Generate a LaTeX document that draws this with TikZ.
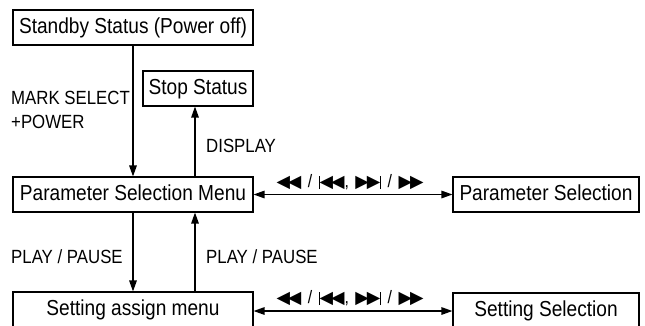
\documentclass[tikz,border=0pt]{standalone}
\usepackage{fontspec}
\setmainfont{Liberation Sans}[FakeStretch=0.88]
\newfontfamily\symf{DejaVu Sans}
\usetikzlibrary{arrows.meta}
\newcommand{\trifont}{\symf\fontsize{17.5}{17.5}\selectfont}
\newcommand{\tl}{{\trifont ◀\kern-2pt◀}}
\newcommand{\tr}{{\trifont ▶\kern-2pt▶}}
\newcommand{\vb}{{\trifont\setbox0\hbox{◀}\rule[-\dp0]{1.3pt}{\dimexpr\ht0+\dp0\relax}}}
\newcommand{\gp}{\hspace{6.5pt}}
\newcommand{\navlabel}{\tl\gp/\gp\vb\kern-0.5pt\tl,\gp\tr\kern-0.5pt\vb\gp/\gp\tr}
\begin{document}
\begin{tikzpicture}[x=1pt,y=-1pt,
  box/.style={draw, line width=1.1pt, inner sep=0pt, minimum height=35pt,
    font=\fontsize{21.7}{24}\selectfont, text height=15.5pt, text depth=4.5pt},
  lbl/.style={anchor=base west, inner sep=0pt, font=\fontsize{19.1}{22}\selectfont},
  nav/.style={anchor=base, inner sep=0pt, font=\fontsize{18}{20}\selectfont},
  arr/.style={line width=1.4pt, -{Triangle[length=11pt,width=7.5pt]}},
  darr/.style={line width=1.4pt, {Triangle[length=11pt,width=7.5pt]}-{Triangle[length=11pt,width=7.5pt]}}]
\useasboundingbox (0,0) rectangle (645,325);
\clip (0,0) rectangle (645,325);
\node[box, minimum width=240pt] (standby) at (133,27.5) {Standby Status (Power off)};
\node[box, minimum width=110pt] (stop) at (198,88.5) {Stop Status};
\node[box, minimum width=240pt] (psm) at (133,194.5) {Parameter Selection Menu};
\node[box, minimum width=186pt] (ps) at (546,194.5) {Parameter Selection};
\node[box, minimum width=240pt] (sam) at (133,309.5) {Setting assign menu};
\node[box, minimum width=186pt] (ss) at (546,310.5) {Setting Selection};
\coordinate (xu) at (195,0);
\draw[arr] (standby.south) -- (psm.north);
\draw[arr] (psm.north -| xu) -- (stop.south -| xu);
\draw[arr] (psm.south) -- (sam.north);
\draw[arr] (sam.north -| xu) -- (psm.south -| xu);
\draw[darr] (psm.east) -- (ps.west);
\draw[darr] (sam.east |- 0,311) -- (ss.west |- 0,311);
\node[lbl] (l1) at (11,104) {MARK SELECT};
\node[lbl] (l2) at (11,128) {+POWER};
\node[lbl] (l3) at (206,152) {DISPLAY};
\node[lbl] (l4) at (11,263) {PLAY / PAUSE};
\node[lbl] (l5) at (206,263) {PLAY / PAUSE};
\node[nav] (n1) at (350,187) {\navlabel};
\node[nav] (n2) at (350,303) {\navlabel};
\end{tikzpicture}
\end{document}
